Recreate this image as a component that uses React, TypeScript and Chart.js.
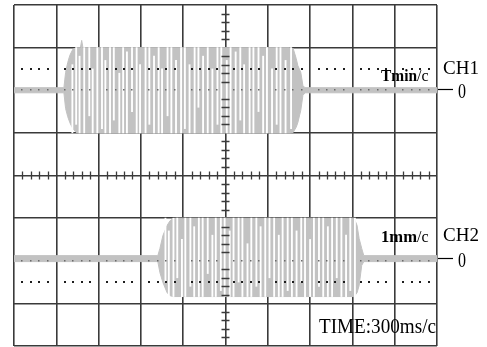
import React, { useEffect, useRef } from 'react';
import { Chart, registerables } from 'chart.js';

Chart.register(...registerables);

// Horizontal positions are in screen divisions (0..10), vertical in divisions (-4..4).
// CH1 trace: envelope (upper / lower edge of the grey band)
const ch1X = [0, 1.18, 1.22, 1.27, 1.32, 1.39, 1.47, 1.57, 1.60, 1.63, 6.52, 6.60, 6.67, 6.71, 6.78, 6.83, 6.88, 10];
const ch1Upper = [2.06, 2.06, 2.42, 2.65, 2.82, 2.96, 3.0, 3.0, 3.17, 3.0, 3.0, 2.98, 2.75, 2.58, 2.42, 2.11, 2.06, 2.06];
const ch1Lower = [1.94, 1.94, 1.57, 1.38, 1.24, 1.1, 1.01, 1.0, 1.0, 1.0, 1.0, 1.01, 1.13, 1.24, 1.53, 1.88, 1.94, 1.94];

// CH1 white gaps between the oscillation strokes (position, bottom, top)
const ch1GapX = [1.38, 1.47, 1.55, 1.66, 1.78, 1.86, 1.97, 2.08, 2.16, 2.27, 2.36, 2.49, 2.58, 2.67, 2.79, 2.9, 2.98, 3.11, 3.2, 3.31, 3.42, 3.5, 3.63, 3.72, 3.83, 3.95, 4.04, 4.15, 4.27, 4.36, 4.47, 4.58, 4.69, 4.81, 4.9, 5.03, 5.12, 5.24, 5.35, 5.44, 5.57, 5.66, 5.78, 5.89, 5.98, 6.1, 6.21, 6.3, 6.42, 6.55];
const ch1GapLow = [1.0, 1.2, 1.0, 1.0, 1.4, 1.0, 1.0, 1.1, 1.0, 1.0, 1.3, 1.0, 1.0, 1.0, 1.5, 1.0, 1.0, 1.0, 1.2, 1.0, 1.0, 1.0, 1.4, 1.0, 1.0, 1.0, 1.1, 1.0, 1.0, 1.6, 1.0, 1.0, 1.0, 1.2, 1.0, 1.0, 1.0, 1.0, 1.3, 1.0, 1.0, 1.0, 1.5, 1.0, 1.0, 1.0, 1.2, 1.0, 1.0, 1.1];
const ch1GapHigh = [2.6, 3.0, 2.8, 3.0, 3.0, 2.5, 3.0, 3.0, 2.7, 3.0, 3.0, 2.4, 3.0, 2.9, 3.0, 3.0, 2.6, 3.0, 3.0, 2.8, 3.0, 2.5, 3.0, 3.0, 2.7, 3.0, 3.0, 2.6, 3.0, 3.0, 2.8, 3.0, 2.5, 3.0, 3.0, 2.7, 3.0, 2.9, 3.0, 2.6, 3.0, 3.0, 3.0, 2.8, 3.0, 2.5, 3.0, 3.0, 2.7, 3.0];

// CH2 trace envelope
const ch2X = [0, 3.4, 3.45, 3.52, 3.62, 3.69, 3.76, 3.83, 8.04, 8.11, 8.16, 8.22, 8.27, 10];
const ch2Upper = [-1.88, -1.88, -1.71, -1.41, -1.17, -1.06, -1.01, -1.0, -1.0, -1.17, -1.48, -1.71, -1.88, -1.88];
const ch2Lower = [-2.02, -2.02, -2.28, -2.51, -2.75, -2.82, -2.84, -2.84, -2.84, -2.75, -2.58, -2.11, -2.02, -2.02];

// CH2 white gaps
const ch2GapX = [3.58, 3.66, 3.77, 3.86, 3.97, 4.05, 4.17, 4.26, 4.37, 4.46, 4.58, 4.69, 4.77, 4.89, 4.98, 5.1, 5.19, 5.31, 5.4, 5.52, 5.61, 5.73, 5.83, 5.94, 6.04, 6.15, 6.26, 6.35, 6.47, 6.57, 6.68, 6.79, 6.88, 7.0, 7.09, 7.21, 7.31, 7.42, 7.52, 7.63, 7.74, 7.85, 7.95, 8.06];
const ch2GapLow = [-2.5, -2.84, -2.84, -2.4, -2.84, -2.84, -2.6, -2.84, -2.84, -2.84, -2.3, -2.84, -2.84, -2.7, -2.84, -2.84, -2.84, -2.5, -2.84, -2.84, -2.84, -2.6, -2.84, -2.84, -2.4, -2.84, -2.84, -2.84, -2.7, -2.84, -2.84, -2.5, -2.84, -2.84, -2.84, -2.6, -2.84, -2.84, -2.84, -2.4, -2.84, -2.84, -2.7, -2.84];
const ch2GapHigh = [-1.0, -1.3, -1.0, -1.0, -1.5, -1.0, -1.0, -1.2, -1.0, -1.0, -1.0, -1.4, -1.0, -1.0, -1.0, -1.3, -1.0, -1.0, -1.0, -1.6, -1.0, -1.0, -1.2, -1.0, -1.0, -1.0, -1.4, -1.0, -1.0, -1.0, -1.3, -1.0, -1.0, -1.5, -1.0, -1.0, -1.0, -1.2, -1.0, -1.0, -1.0, -1.4, -1.0, -1.0];

// Channel zero levels (divisions)
const zeroLevels = [2.0, -1.95];
// Texts
const channelNames = ['CH1', 'CH2'];
const scaleValue = ['Tmin', '1mm'];
const scaleUnit = '/c';
const zeroMark = '0';
const timeText = 'TIME:300ms/c';

const GRID = '#3a3a3a';
const TRACE = '#c2c2c2';

export default function App() {
  const ref = useRef<HTMLCanvasElement | null>(null);

  useEffect(() => {
    document.body.style.margin = '0';
    const canvas = ref.current;
    if (!canvas) return;
    const pts = (xs: number[], ys: number[]) => xs.map((x, i) => ({ x, y: ys[i] }));
    const gaps = (xs: number[], lo: number[], hi: number[]) => xs.map((x, i) => ({ x, y: [lo[i], hi[i]] }));

    const overlay = {
      id: 'scopeOverlay',
      afterDatasetsDraw(chart: any) {
        const { ctx } = chart;
        const xs = chart.scales.x;
        const ys = chart.scales.y;
        ctx.save();
        // dotted rows at +-2.5 div
        ctx.fillStyle = '#1e1e1e';
        for (const v of [2.5, -2.5]) {
          const py = ys.getPixelForValue(v);
          for (let i = 0; i < 50; i++) {
            if (i % 5 === 0) continue;
            const px = xs.getPixelForValue(i / 5);
            ctx.fillRect(Math.round(px) - 1, Math.round(py) - 1, 2, 2);
          }
        }
        // faint dots on zero rows
        ctx.fillStyle = '#6a6a6a';
        for (const v of [2, -2]) {
          const py = ys.getPixelForValue(v);
          for (let i = 0; i < 50; i++) {
            if (i % 5 === 0) continue;
            const px = xs.getPixelForValue(i / 5);
            ctx.fillRect(Math.round(px) - 1, Math.round(py) - 1, 1.5, 1.5);
          }
        }
        // minor ticks on the central axes
        ctx.strokeStyle = GRID;
        ctx.lineWidth = 1.3;
        const cy = ys.getPixelForValue(0);
        const cx = xs.getPixelForValue(5);
        ctx.beginPath();
        for (let i = 1; i < 50; i++) {
          if (i % 5 === 0) continue;
          const px = Math.round(xs.getPixelForValue(i / 5)) + 0.5;
          ctx.moveTo(px, cy - 4);
          ctx.lineTo(px, cy + 4);
        }
        for (let i = -19; i < 20; i++) {
          if (i % 5 === 0) continue;
          const py = Math.round(ys.getPixelForValue(i / 5)) + 0.5;
          ctx.moveTo(cx - 4, py);
          ctx.lineTo(cx + 4, py);
        }
        ctx.stroke();

        // texts
        const right = xs.getPixelForValue(10);
        ctx.fillStyle = '#000';
        ctx.textBaseline = 'alphabetic';
        ctx.textAlign = 'left';
        const labelBase = [81, 242];
        const chBase = [74, 241];
        for (let c = 0; c < 2; c++) {
          ctx.font = 'bold 17px "Liberation Serif", serif';
          const bx = right - 56;
          ctx.fillText(scaleValue[c], bx, labelBase[c], 36);
          const w = Math.min(36, ctx.measureText(scaleValue[c]).width);
          ctx.font = '16px "Liberation Serif", serif';
          ctx.fillText(scaleUnit, bx + w, labelBase[c]);
          ctx.font = '19px "Liberation Serif", serif';
          ctx.fillText(channelNames[c], right + 6, chBase[c], 36);
          const zy = Math.round(ys.getPixelForValue(zeroLevels[c])) - 0.5;
          ctx.strokeStyle = '#000';
          ctx.lineWidth = 1.2;
          ctx.beginPath();
          ctx.moveTo(right + 1, zy);
          ctx.lineTo(right + 16, zy);
          ctx.stroke();
          ctx.font = '21px "Liberation Serif", serif';
          ctx.fillText(zeroMark, right + 21, zy + 8, 8);
        }
        ctx.font = '20px "Liberation Serif", serif';
        ctx.fillText(timeText, right - 118, 333, 117);
        ctx.restore();
      },
    };

    const band = (label: string, xs: number[], ys: number[], fill: any) => ({
      type: 'line' as const,
      label,
      data: pts(xs, ys),
      fill,
      borderColor: TRACE,
      borderWidth: 1,
      backgroundColor: TRACE,
      pointRadius: 0,
      tension: 0,
      order: 1,
    });
    const gapSet = (label: string, xs: number[], lo: number[], hi: number[]) => ({
      type: 'bar' as const,
      label,
      data: gaps(xs, lo, hi),
      backgroundColor: '#ffffff',
      borderWidth: 0,
      barThickness: 1.2,
      grouped: false,
      order: 0,
    });

    const chart = new Chart(canvas, {
      type: 'line',
      data: {
        datasets: [
          band('CH1 upper', ch1X, ch1Upper, false),
          band('CH1 lower', ch1X, ch1Lower, '-1'),
          band('CH2 upper', ch2X, ch2Upper, false),
          band('CH2 lower', ch2X, ch2Lower, '-1'),
          gapSet('CH1 gaps', ch1GapX, ch1GapLow, ch1GapHigh),
          gapSet('CH2 gaps', ch2GapX, ch2GapLow, ch2GapHigh),
        ] as any,
      },
      options: {
        responsive: false,
        animation: false,
        devicePixelRatio: 1,
        events: [],
        layout: { padding: { left: 14, top: 5, right: 50, bottom: 1 } },
        plugins: { legend: { display: false }, tooltip: { enabled: false } },
        scales: {
          x: {
            type: 'linear',
            min: 0,
            max: 10,
            offset: false,
            ticks: { stepSize: 1, display: false },
            grid: { color: GRID, lineWidth: 1.6, drawTicks: false, offset: false },
            border: { display: false },
          },
          y: {
            type: 'linear',
            min: -4,
            max: 4,
            ticks: { stepSize: 1, display: false },
            grid: {
              color: (c: any) => (Math.abs(c.tick?.value) === 2 ? 'rgba(0,0,0,0)' : GRID),
              lineWidth: 1.6,
              drawTicks: false,
            },
            border: { display: false },
          },
        },
      },
      plugins: [overlay],
    });
    return () => chart.destroy();
  }, []);

  return (
    <div style={{ position: 'absolute', left: 0, top: 0, width: 487, height: 347, background: '#fff' }}>
      <canvas ref={ref} width={487} height={347} />
    </div>
  );
}
